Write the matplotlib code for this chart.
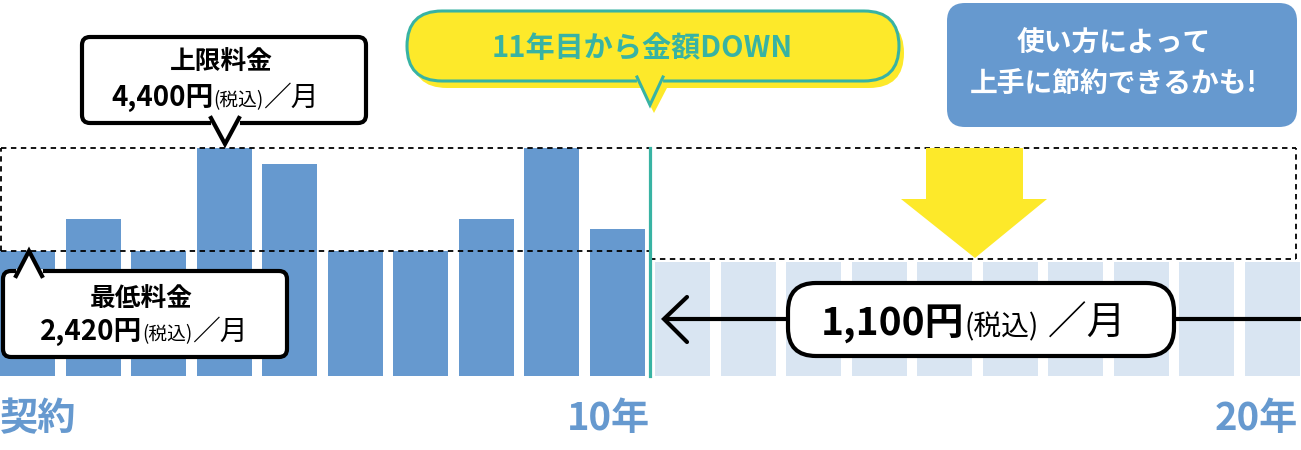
import numpy as np
import matplotlib
matplotlib.use("Agg")
import matplotlib.pyplot as plt
from matplotlib.patches import FancyBboxPatch, Polygon

plt.rcParams['font.family'] = ['Noto Sans CJK JP', 'DejaVu Sans']

# ----------------- datos -----------------
anios = list(range(1, 21))
tarifa_1_10 = [2420, 3030, 2420, 4400, 4090, 2420, 2420, 3030, 4400, 2840]
# las barras del año 11 en adelante (dibujadas a esta altura en el original)
tarifa_11_20 = [2200, 2200, 2200, 2200, 2200, 2200, 2200, 2200, 2200, 2200]
tarifa_max = 4400
tarifa_min = 2420
etiquetas_eje = ["契約", "10年", "20年"]

AZUL = "#6699cf"
AZUL_CLARO = "#d9e5f2"
TEAL = "#38b3a3"
AMARILLO = "#fde92a"

W, H = 1301, 450
fig = plt.figure(figsize=(W / 100, H / 100), dpi=100)

# ejes de datos: posición = indice de barra, altura = yenes
ax = fig.add_axes([0, 0, 1, 1])
paso_px, x0_px, base_px = 65.5, 27.5, 376
yen_px = tarifa_max / (base_px - 148)
ax.set_xlim((0 - x0_px) / paso_px, (W - x0_px) / paso_px)
ax.set_ylim(-(H - base_px) * yen_px, base_px * yen_px)
ax.axis("off")

x = np.arange(len(anios))
ancho = 55 / paso_px
ax.bar(x[:10], tarifa_1_10, width=ancho, color=AZUL, zorder=2)
ax.bar(x[10:], tarifa_11_20, width=ancho, color=AZUL_CLARO, zorder=2)

izq = x[0] - ancho / 2 + 0.02
der = x[-1] + ancho / 2 - 0.05
corte = 9.5
kw = dict(color="black", lw=1.3, linestyle=(0, (3, 2.5)), zorder=3)
ax.plot([izq, der], [tarifa_max, tarifa_max], **kw)
ax.plot([izq, corte], [tarifa_min, tarifa_min], **kw)
ax.plot([corte, der], [tarifa_11_20[0] + 60, tarifa_11_20[0] + 60], **kw)
ax.plot([izq, izq], [tarifa_min, tarifa_max], **kw)
ax.plot([der, der], [tarifa_11_20[0] + 60, tarifa_max], **kw)
ax.plot([corte, corte], [0, tarifa_max], color=TEAL, lw=2.3, zorder=4)

# ejes superpuestos en pixeles para los globos
ov = fig.add_axes([0, 0, 1, 1], zorder=5)
ov.set_xlim(0, W)
ov.set_ylim(H, 0)
ov.axis("off")
ov.patch.set_alpha(0)

renderer = fig.canvas.get_renderer()


def texto_mixto(cx, base, partes, color="black"):
    objs = []
    for s, size, peso in partes:
        objs.append(ov.text(0, base, s, fontsize=size, fontweight=peso, color=color,
                            ha="left", va="baseline", zorder=20))
    anchos = [o.get_window_extent(renderer).width for o in objs]
    xx = cx - sum(anchos) / 2
    for o, w in zip(objs, anchos):
        o.set_x(xx)
        xx += w


def globo(x0, y0, x1, y1, cola, radio=8, lw=3, fc="white", ec="black"):
    ov.add_patch(FancyBboxPatch((x0, y0), x1 - x0, y1 - y0,
                                boxstyle=f"round,pad=0,rounding_size={radio}",
                                fc=fc, ec=ec, lw=lw, zorder=6))
    (a, b, c) = cola
    ov.add_patch(Polygon([a, b, c], closed=True, fc=fc, ec="none", zorder=7))
    ov.plot([a[0], b[0], c[0]], [a[1], b[1], c[1]], color=ec, lw=lw,
            solid_joinstyle="miter", zorder=8)


# 上限料金
globo(82, 37, 366, 123, [(211, 118), (225, 144), (239, 118)])
ov.plot([213, 237], [123, 123], color="white", lw=3.5, zorder=7)
texto_mixto(221, 69, [("上限料金", 18.5, "bold")])
texto_mixto(215, 106, [("4,400円", 20, "bold"), ("(税込)", 13.5, "normal"),
                       ("／月", 20, "normal")])

# 最低料金
globo(3, 271, 287, 357, [(16, 276), (29, 251), (42, 276)])
ov.plot([18, 40], [271, 271], color="white", lw=3.5, zorder=7)
texto_mixto(141, 306, [("最低料金", 18.5, "bold")])
texto_mixto(144, 340, [("2,420円", 20, "bold"), ("(税込)", 13.5, "normal"),
                       ("／月", 20, "normal")])

# 11年目から金額DOWN (sombra + globo)
ov.add_patch(FancyBboxPatch((412, 18), 492, 70, boxstyle="round,pad=0,rounding_size=35",
                            fc=AMARILLO, ec="none", zorder=5))
ov.add_patch(Polygon([(640, 86), (654, 113), (668, 86)], fc=AMARILLO, ec="none", zorder=5))
globo(407, 11, 899, 81, [(637, 77), (650, 105), (663, 77)], radio=35, lw=2.2,
      fc=AMARILLO, ec=TEAL)
ov.plot([639, 661], [81, 81], color=AMARILLO, lw=3, zorder=7)
texto_mixto(642, 57, [("11年目から金額DOWN", 21, "bold")], color=TEAL)

# 使い方によって
ov.add_patch(FancyBboxPatch((947, 3), 350, 124, boxstyle="round,pad=0,rounding_size=18",
                            fc=AZUL, ec="none", zorder=6))
texto_mixto(1114, 52, [("使い方によって", 20, "bold")], color="white")
texto_mixto(1114, 92, [("上手に節約できるかも!", 20, "bold")], color="white")

# flecha amarilla
ov.add_patch(Polygon([(926, 148), (1023, 148), (1023, 199), (1047, 199), (975, 258),
                      (901, 199), (926, 199)], fc=AMARILLO, ec="none", zorder=5))

# flecha negra y 1,100円
ov.plot([666, W], [319, 319], color="black", lw=3, zorder=6)
ov.plot([687, 664, 687], [297, 319, 342], color="black", lw=3,
        solid_capstyle="round", solid_joinstyle="miter", zorder=6)
ov.add_patch(FancyBboxPatch((788, 283), 386, 73, boxstyle="round,pad=0,rounding_size=28",
                            fc="white", ec="black", lw=3, zorder=7))
texto_mixto(973, 335, [("1,100円", 28, "bold"), ("(税込)", 20, "normal"),
                       (" ／月", 28, "normal")])

# etiquetas inferiores
for txt, xp, al in zip(etiquetas_eje, [0, 650, 1298], ["left", "right", "right"]):
    ov.text(xp, 430, txt, fontsize=27.5, fontweight="bold", color=AZUL,
            ha=al, va="baseline", zorder=20)

fig.savefig("out.png", dpi=100)
